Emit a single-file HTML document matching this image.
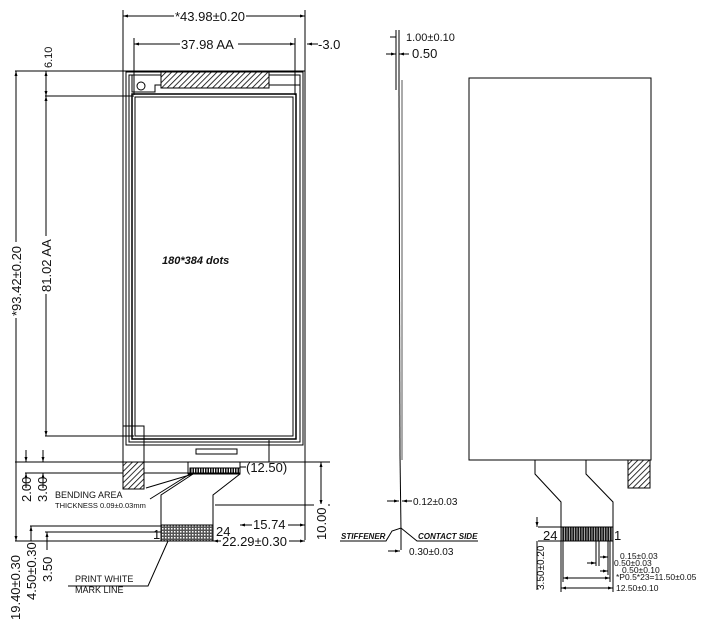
<!DOCTYPE html>
<html><head><meta charset="utf-8"><style>body{margin:0;background:#fff}svg{display:block}text{font-family:"Liberation Sans",sans-serif;fill:#111}</style></head><body>
<svg width="706" height="627" viewBox="0 0 706 627" xmlns="http://www.w3.org/2000/svg">
<defs>
<pattern id="h" width="4" height="4" patternUnits="userSpaceOnUse" patternTransform="rotate(45)"><rect width="4" height="4" fill="#fff"/><line x1="0" y1="0" x2="0" y2="4" stroke="#000" stroke-width="1.6"/></pattern>
<pattern id="d" width="3" height="3" patternUnits="userSpaceOnUse"><rect width="3" height="3" fill="#555"/><rect width="1.5" height="1.5" fill="#fff"/></pattern>
<pattern id="v" width="2.5" height="4" patternUnits="userSpaceOnUse"><rect width="2.5" height="4" fill="#fff"/><rect width="1.5" height="4" fill="#111"/></pattern>
<marker id="a" viewBox="0 0 10 10" refX="10" refY="5" markerWidth="7" markerHeight="5" orient="auto-start-reverse"><path d="M0,2L10,5L0,8z" fill="#000"/></marker>
</defs>
<g stroke="#000" stroke-width="1" fill="none">
<line x1="123" y1="10" x2="123" y2="462"/><line x1="305" y1="10" x2="305" y2="540"/>
<line x1="134" y1="38" x2="134" y2="95"/><line x1="295" y1="38" x2="295" y2="95"/>
<line x1="15" y1="71" x2="305" y2="71"/>
<line x1="45" y1="96" x2="134" y2="96"/><line x1="45" y1="436" x2="134" y2="436"/>
<line x1="15" y1="462" x2="330" y2="462"/>
<line x1="25" y1="473" x2="190" y2="473"/>
<line x1="30" y1="526" x2="162" y2="526"/><line x1="45" y1="532" x2="162" y2="532"/>
<line x1="15" y1="541" x2="305" y2="541"/>
<line x1="215" y1="505" x2="330" y2="505"/>
<line x1="269" y1="462" x2="269" y2="440"/>
<line x1="123" y1="16" x2="305" y2="16" marker-start="url(#a)" marker-end="url(#a)"/>
<line x1="134" y1="44" x2="295" y2="44" marker-start="url(#a)" marker-end="url(#a)"/>
<line x1="307" y1="44" x2="318" y2="44" marker-start="url(#a)"/>
<line x1="16" y1="71" x2="16" y2="541" marker-start="url(#a)" marker-end="url(#a)"/>
<line x1="46" y1="71" x2="46" y2="96" marker-start="url(#a)" marker-end="url(#a)"/>
<line x1="46" y1="96" x2="46" y2="436" marker-start="url(#a)" marker-end="url(#a)"/>
<line x1="26" y1="450" x2="26" y2="462" marker-end="url(#a)"/><line x1="26" y1="473" x2="26" y2="488" marker-start="url(#a)"/>
<line x1="43" y1="450" x2="43" y2="462" marker-end="url(#a)"/><line x1="43" y1="473" x2="43" y2="488" marker-start="url(#a)"/>
<line x1="31" y1="526" x2="31" y2="541" marker-start="url(#a)"/>
<line x1="47" y1="532" x2="47" y2="550" marker-start="url(#a)"/>
<line x1="321" y1="462" x2="321" y2="505" marker-start="url(#a)" marker-end="url(#a)"/>
<line x1="240" y1="525" x2="305" y2="525" marker-start="url(#a)" marker-end="url(#a)"/>
<line x1="213" y1="541" x2="305" y2="541" marker-start="url(#a)" marker-end="url(#a)"/>
<line x1="240" y1="467" x2="246" y2="467"/>
<rect x="126" y="72" width="177" height="373"/>
<rect x="129" y="75" width="171" height="367"/>
<path d="M132,75 L132,92 L155,92 L155,85 L300,85"/>
<circle cx="141" cy="86" r="4"/>
<rect x="132" y="94" width="164" height="345" stroke-width="1.5"/>
<rect x="135" y="97" width="158" height="339"/>
<rect x="161" y="72" width="108" height="16" fill="url(#h)"/>
<rect x="196" y="449" width="41" height="5"/>
<rect x="123" y="426" width="21" height="36"/>
<rect x="123" y="462" width="21" height="27" fill="url(#h)"/>
<rect x="188" y="462" width="52" height="12"/>
<rect x="190" y="468" width="50" height="5" fill="url(#v)"/>
<path d="M193,474 L161,495 L161,526"/><path d="M240,474 L213,495 L213,526"/>
<rect x="161" y="525" width="52" height="16" fill="url(#d)"/>
<path d="M146,488 L193,474"/><path d="M150,499 L190,474"/>
<path d="M68,586 L148,586 L168,541"/>
<line x1="396" y1="30" x2="396" y2="90"/><line x1="399" y1="30" x2="399" y2="90"/>
<line x1="402" y1="80" x2="402" y2="460" stroke="#aaa" stroke-width="2"/>
<line x1="399" y1="90" x2="400" y2="455"/>
<line x1="400" y1="455" x2="401" y2="530"/><line x1="401" y1="530" x2="401" y2="550"/>
<line x1="390" y1="37" x2="396" y2="37"/><line x1="386" y1="54" x2="396" y2="54" marker-end="url(#a)"/><line x1="409" y1="54" x2="399" y2="54" marker-end="url(#a)"/>
<line x1="387" y1="501" x2="399" y2="501" marker-end="url(#a)"/><line x1="412" y1="501" x2="402" y2="501" marker-end="url(#a)"/>
<line x1="388" y1="551" x2="400" y2="551" marker-end="url(#a)"/>
<path d="M340,541 L386,541 L392,531 L401,528 L417,541 L478,541"/>
<rect x="469" y="78" width="182" height="382"/>
<rect x="628" y="460" width="22" height="28" fill="url(#h)"/>
<path d="M535,460 L535,474 L561,502 L561,527"/><path d="M586,460 L586,474 L613,502 L613,527"/>
<rect x="561" y="527" width="52" height="14" fill="#222"/>
<rect x="561" y="527" width="52" height="14" fill="url(#v)" opacity=".6"/>
<line x1="538" y1="527" x2="561" y2="527"/><line x1="538" y1="541" x2="561" y2="541"/>
<line x1="537" y1="517" x2="537" y2="527" marker-end="url(#a)"/>
<line x1="537" y1="541" x2="537" y2="590"/>
<line x1="561" y1="541" x2="561" y2="592"/><line x1="563" y1="541" x2="563" y2="582"/>
<line x1="596" y1="541" x2="596" y2="566"/><line x1="599" y1="541" x2="599" y2="566"/>
<line x1="608" y1="541" x2="608" y2="575"/><line x1="610" y1="541" x2="610" y2="582"/><line x1="613" y1="541" x2="613" y2="592"/>
<line x1="563" y1="578" x2="610" y2="578" marker-start="url(#a)" marker-end="url(#a)"/>
<line x1="561" y1="588" x2="613" y2="588" marker-start="url(#a)" marker-end="url(#a)"/>
<line x1="600" y1="557" x2="608" y2="557" marker-end="url(#a)"/>
<line x1="587" y1="563" x2="596" y2="563" marker-end="url(#a)"/>
<line x1="600" y1="571" x2="608" y2="571" marker-end="url(#a)"/>
</g>
<g fill="#fff">
<rect x="174" y="9" width="72" height="14"/>
<rect x="180" y="37" width="58" height="14"/>
<rect x="9" y="242" width="14" height="76"/>
<rect x="39" y="236" width="14" height="58"/>
<rect x="252" y="518" width="36" height="14"/>
<rect x="221" y="534" width="68" height="14"/>
<rect x="314" y="504" width="14" height="36"/>
</g>
<g font-size="13">
<text x="175" y="21">*43.98±0.20</text>
<text x="181" y="49">37.98  AA</text>
<text x="318" y="49">-3.0</text>
<text transform="translate(52,68) rotate(-90)" font-size="11">6.10</text>
<text transform="translate(21,316) rotate(-90)">*93.42±0.20</text>
<text transform="translate(51,292) rotate(-90)">81.02  AA</text>
<text transform="translate(31,502) rotate(-90)">2.00</text>
<text transform="translate(47,502) rotate(-90)">3.00</text>
<text transform="translate(20,620) rotate(-90)">19.40±0.30</text>
<text transform="translate(36,600) rotate(-90)">4.50±0.30</text>
<text transform="translate(52,582) rotate(-90)">3.50</text>
<text transform="translate(326,540) rotate(-90)">10.00</text>
<text x="246" y="472">(12.50)</text>
<text x="253" y="529">15.74</text>
<text x="222" y="546">22.29±0.30</text>
<text x="153" y="539">1</text><text x="216" y="536">24</text>
<text x="162" y="264" font-style="italic" font-weight="bold" font-size="11">180*384  dots</text>
<text x="55" y="498" font-size="9">BENDING  AREA</text>
<text x="55" y="508" font-size="7.5">THICKNESS  0.09±0.03mm</text>
<text x="75" y="582" font-size="9">PRINT  WHITE</text>
<text x="75" y="593" font-size="9">MARK  LINE</text>
<text x="406" y="41" font-size="11">1.00±0.10</text>
<text x="412" y="58">0.50</text>
<text x="413" y="505" font-size="10">0.12±0.03</text>
<text x="409" y="555" font-size="10">0.30±0.03</text>
<text x="341" y="539" font-size="8" font-style="italic" font-weight="bold">STIFFENER</text>
<text x="418" y="539" font-size="8" font-style="italic" font-weight="bold">CONTACT  SIDE</text>
<text x="543" y="540">24</text><text x="614" y="540">1</text>
<g font-size="8.5"><text x="620" y="559">0.15±0.03</text><text x="614" y="566">0.50±0.03</text><text x="622" y="573">0.50±0.10</text><text x="616" y="580">*P0.5*23=11.50±0.05</text><text x="616" y="591">12.50±0.10</text>
<text transform="translate(544,590) rotate(-90)" font-size="10">3.50±0.20</text></g>
</g>
</svg>
</body></html>
